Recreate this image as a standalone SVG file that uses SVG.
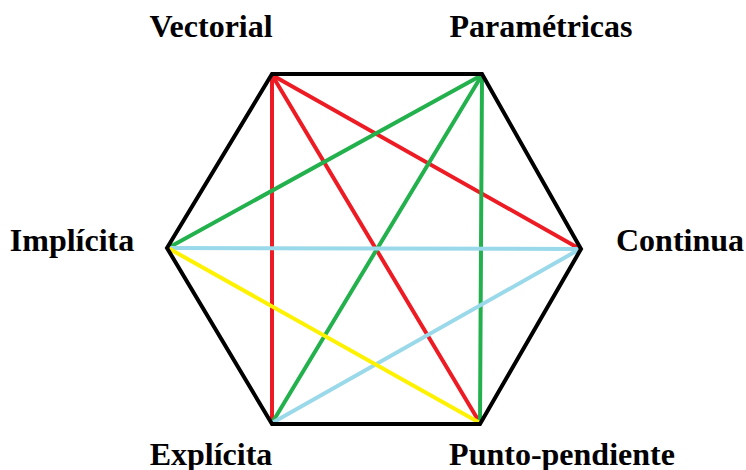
<svg xmlns="http://www.w3.org/2000/svg" width="746" height="470" viewBox="0 0 746 470">
<style>
.lbl{font-family:"Liberation Serif","Times New Roman",serif;font-weight:bold;font-size:32px;fill:#000}
.e{fill:none;stroke-width:4;stroke-linecap:round}
.r{stroke:#ed1c24}.g{stroke:#22b14c}.b{stroke:#99d9ea}.y{stroke:#fff200}
</style>
<rect width="746" height="470" fill="#fff"/>
<g id="connectors">
<line class="e r" x1="272" y1="75" x2="272" y2="423"/>
<line class="e r" x1="272" y1="75" x2="480" y2="423"/>
<line class="e r" x1="272" y1="75" x2="580" y2="249"/>
<line class="e g" x1="482" y1="75" x2="168" y2="248"/>
<line class="e g" x1="482" y1="75" x2="272" y2="423"/>
<line class="e g" x1="482" y1="75" x2="480" y2="423"/>
<line class="e b" x1="168" y1="248" x2="580" y2="249"/>
<line class="e b" x1="580" y1="249" x2="272" y2="423"/>
<line class="e y" x1="168" y1="248" x2="480" y2="423"/>
</g>
<g id="hexagon">
<polygon points="272,74 482,74 581,249 480,424 272,424 167,248" fill="none" stroke="#000" stroke-width="4" stroke-linejoin="miter"/>
</g>
<g id="n-vectorial"><text class="lbl" x="211" y="37" text-anchor="middle">Vectorial</text></g>
<g id="n-parametricas"><text class="lbl" x="541" y="37" text-anchor="middle">Paramétricas</text></g>
<g id="n-implicita"><text class="lbl" x="72" y="251" text-anchor="middle">Implícita</text></g>
<g id="n-continua"><text class="lbl" x="680" y="251" text-anchor="middle">Continua</text></g>
<g id="n-explicita"><text class="lbl" x="211" y="465" text-anchor="middle">Explícita</text></g>
<g id="n-punto"><text class="lbl" x="562" y="465" text-anchor="middle">Punto-pendiente</text></g>
</svg>
